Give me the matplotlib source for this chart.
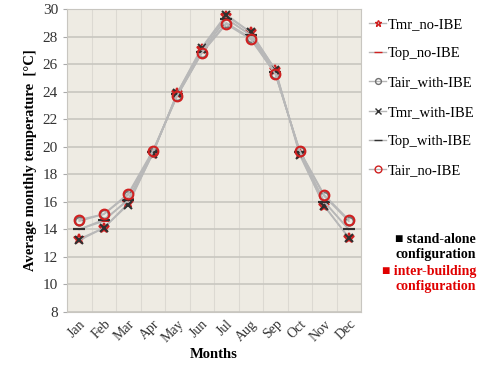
import matplotlib
matplotlib.use("Agg")
import matplotlib.pyplot as plt
import numpy as np
from matplotlib.lines import Line2D

months = ["Jan", "Feb", "Mar", "Apr", "May", "Jun", "Jul", "Aug", "Sep", "Oct", "Nov", "Dec"]
tmr_no_ibe = [13.3, 14.1, 15.9, 19.5, 23.9, 27.1, 29.5, 28.3, 25.6, 19.5, 15.7, 13.4]
top_no_ibe = [14.0, 14.6, 16.2, 19.6, 23.8, 26.9, 29.3, 28.1, 25.4, 19.6, 16.0, 14.0]
tair_with_ibe = [14.6, 15.1, 16.5, 19.6, 23.7, 26.8, 29.0, 27.9, 25.3, 19.7, 16.4, 14.6]
tmr_with_ibe = [13.2, 14.1, 15.8, 19.5, 23.9, 27.2, 29.6, 28.3, 25.6, 19.4, 15.7, 13.4]
top_with_ibe = [14.0, 14.7, 16.1, 19.6, 23.8, 26.9, 29.3, 28.1, 25.4, 19.6, 16.0, 14.0]
tair_no_ibe = [14.7, 15.1, 16.6, 19.7, 23.7, 26.8, 28.9, 27.8, 25.3, 19.7, 16.5, 14.7]

plt.rcParams['font.family'] = ['Liberation Serif', 'DejaVu Serif']

fig = plt.figure(figsize=(4.8, 3.71), dpi=100)
ax = fig.add_axes([67/480, 1-312/371, (361-67)/480, (312-9)/371])
ax.set_facecolor('#eeebe3')

x = np.arange(len(months))
line_col = '#b8b8b8'
red = '#d02020'
dark = '#303030'

series = [
    (tmr_no_ibe, 'Tmr_no-IBE', '*', red, 'none', 7),
    (top_no_ibe, 'Top_no-IBE', '_', red, red, 9),
    (tair_with_ibe, 'Tair_with-IBE', 'o', '#707070', 'none', 6),
    (tmr_with_ibe, 'Tmr_with-IBE', 'x', dark, dark, 6),
    (top_with_ibe, 'Top_with-IBE', '_', dark, dark, 9),
    (tair_no_ibe, 'Tair_no-IBE', 'o', red, 'none', 7),
]
handles = []
for vals, lab, mk, mc, mfc, ms in series:
    ax.plot(x, vals, color=line_col, lw=1.2, marker=mk, markeredgecolor=mc,
            markerfacecolor=mfc, markersize=ms, markeredgewidth=1.5, zorder=3)
    handles.append(Line2D([0], [0], color=line_col, lw=1.0, marker=mk, markeredgecolor=mc,
                          markerfacecolor=mfc, markersize=ms*0.7, markeredgewidth=1.0, label=lab))

ax.set_xlim(-0.5, 11.5)
ax.set_ylim(8, 30)
ax.set_yticks(np.arange(8, 31, 2))
ax.set_xticks(x)
ax.set_xticklabels(months, rotation=45, ha='right', rotation_mode='anchor', fontsize=10, color='#333333')
ax.tick_params(axis='y', labelsize=11, colors='#333333', length=3, color='#aaaaaa')
ax.tick_params(axis='x', length=0, pad=4)
ax.set_xticks(np.arange(-0.5, 12, 0.5), minor=True)
ax.tick_params(axis='x', which='minor', length=0)
ax.grid(axis='y', which='major', color='#c8c6c0', lw=1.2)
ax.grid(axis='x', which='minor', color='#dcd9d2', lw=0.8)
ax.set_axisbelow(True)
for s in ax.spines.values():
    s.set_color('#c8c6c0')

ax.set_ylabel('Average monthly temperature  [°C]', fontsize=10.5, fontweight='bold', labelpad=4)
ax.set_xlabel('Months', fontsize=10.5, fontweight='bold', labelpad=2)

fig.legend(handles=handles, loc='upper left', bbox_to_anchor=(363/480, 1-12/371), frameon=False,
           fontsize=10.5, handlelength=1.2, handletextpad=0.1, labelspacing=1.1, borderaxespad=0)

fig.text(476/480, 1-247/371, '■ stand-alone\nconfiguration', ha='right', va='center',
         fontsize=10, fontweight='bold', color='black', linespacing=1.2)
fig.text(476/480, 1-279/371, '■ inter-building\nconfiguration', ha='right', va='center',
         fontsize=10, fontweight='bold', color='#e00000', linespacing=1.2)

fig.savefig('out.png', dpi=100)
